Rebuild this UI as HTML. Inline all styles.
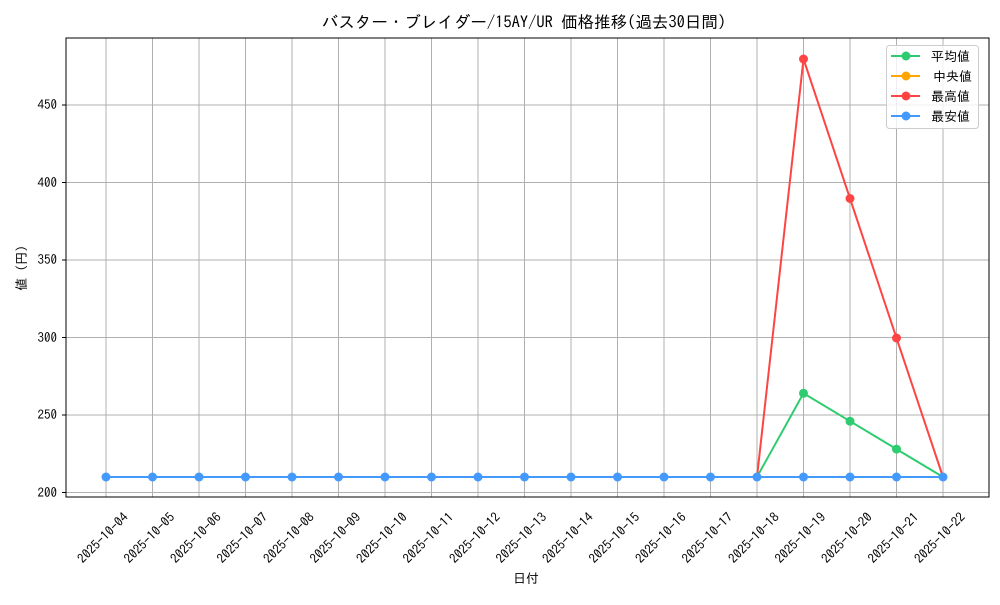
<!DOCTYPE html>
<html><head><meta charset="utf-8"><style>
body{margin:0;background:#fff;}
text{font-family:"IPAGothic","Liberation Sans","Noto Sans CJK JP",sans-serif;fill:#000;}
</style></head><body>
<svg width="1000" height="600" xmlns="http://www.w3.org/2000/svg">
<rect width="1000" height="600" fill="#fff"/>
<text x="524" y="28" font-size="16.5" text-anchor="middle">バスター・ブレイダー/15AY/UR 価格推移(過去30日間)</text>
<g stroke="#b0b0b0" stroke-width="1">
<line x1="106" y1="38" x2="106" y2="497"/><line x1="152.5" y1="38" x2="152.5" y2="497"/><line x1="199" y1="38" x2="199" y2="497"/><line x1="245.5" y1="38" x2="245.5" y2="497"/><line x1="292" y1="38" x2="292" y2="497"/><line x1="338.5" y1="38" x2="338.5" y2="497"/><line x1="385" y1="38" x2="385" y2="497"/><line x1="431.5" y1="38" x2="431.5" y2="497"/><line x1="478" y1="38" x2="478" y2="497"/><line x1="524.5" y1="38" x2="524.5" y2="497"/><line x1="571" y1="38" x2="571" y2="497"/><line x1="617.5" y1="38" x2="617.5" y2="497"/><line x1="664" y1="38" x2="664" y2="497"/><line x1="710.5" y1="38" x2="710.5" y2="497"/><line x1="757" y1="38" x2="757" y2="497"/><line x1="803.5" y1="38" x2="803.5" y2="497"/><line x1="850" y1="38" x2="850" y2="497"/><line x1="896.5" y1="38" x2="896.5" y2="497"/><line x1="943" y1="38" x2="943" y2="497"/>
<line x1="66" y1="492.5" x2="989" y2="492.5"/><line x1="66" y1="415" x2="989" y2="415"/><line x1="66" y1="337.5" x2="989" y2="337.5"/><line x1="66" y1="260" x2="989" y2="260"/><line x1="66" y1="182.5" x2="989" y2="182.5"/><line x1="66" y1="105" x2="989" y2="105"/>
</g>
<rect x="66" y="38" width="923" height="459" fill="none" stroke="#000" stroke-width="1"/>
<g font-size="13" text-anchor="end">
<text x="57" y="497">200</text><text x="57" y="419">250</text><text x="57" y="342">300</text><text x="57" y="264">350</text><text x="57" y="187">400</text><text x="57" y="109">450</text>
</g>
<g stroke="#000"><line x1="62" y1="492.5" x2="66" y2="492.5"/><line x1="62" y1="415" x2="66" y2="415"/><line x1="62" y1="337.5" x2="66" y2="337.5"/><line x1="62" y1="260" x2="66" y2="260"/><line x1="62" y1="182.5" x2="66" y2="182.5"/><line x1="62" y1="105" x2="66" y2="105"/></g>
<g font-size="13" text-anchor="middle">
<text transform="translate(106,541) rotate(-45)">2025-10-04</text>
<text transform="translate(152.5,541) rotate(-45)">2025-10-05</text>
<text transform="translate(199,541) rotate(-45)">2025-10-06</text>
<text transform="translate(245.5,541) rotate(-45)">2025-10-07</text>
<text transform="translate(292,541) rotate(-45)">2025-10-08</text>
<text transform="translate(338.5,541) rotate(-45)">2025-10-09</text>
<text transform="translate(385,541) rotate(-45)">2025-10-10</text>
<text transform="translate(431.5,541) rotate(-45)">2025-10-11</text>
<text transform="translate(478,541) rotate(-45)">2025-10-12</text>
<text transform="translate(524.5,541) rotate(-45)">2025-10-13</text>
<text transform="translate(571,541) rotate(-45)">2025-10-14</text>
<text transform="translate(617.5,541) rotate(-45)">2025-10-15</text>
<text transform="translate(664,541) rotate(-45)">2025-10-16</text>
<text transform="translate(710.5,541) rotate(-45)">2025-10-17</text>
<text transform="translate(757,541) rotate(-45)">2025-10-18</text>
<text transform="translate(803.5,541) rotate(-45)">2025-10-19</text>
<text transform="translate(850,541) rotate(-45)">2025-10-20</text>
<text transform="translate(896.5,541) rotate(-45)">2025-10-21</text>
<text transform="translate(943,541) rotate(-45)">2025-10-22</text>
</g>
<text x="526" y="583" font-size="13" text-anchor="middle">日付</text>
<text transform="translate(26,268) rotate(-90)" font-size="13" text-anchor="middle">値 (円)</text>
<polyline fill="none" stroke="#2ecc71" stroke-width="2" points="106,477 757,477 803.5,393.3 850,421.2 896.5,449.1 943,477"/>
<g fill="#2ecc71"><circle cx="803.5" cy="393.3" r="4.5"/><circle cx="850" cy="421.2" r="4.5"/><circle cx="896.5" cy="449.1" r="4.5"/></g>
<polyline fill="none" stroke="#ff4444" stroke-width="2" points="757,477 803.5,59 850,198.5 896.5,338 943,477"/>
<g fill="#ff4444"><circle cx="803.5" cy="59" r="4.5"/><circle cx="850" cy="198.5" r="4.5"/><circle cx="896.5" cy="338" r="4.5"/></g>
<line x1="106" y1="477" x2="943" y2="477" stroke="#4499ff" stroke-width="2"/>
<g fill="#4499ff"><circle cx="106" cy="477" r="4.5"/><circle cx="152.5" cy="477" r="4.5"/><circle cx="199" cy="477" r="4.5"/><circle cx="245.5" cy="477" r="4.5"/><circle cx="292" cy="477" r="4.5"/><circle cx="338.5" cy="477" r="4.5"/><circle cx="385" cy="477" r="4.5"/><circle cx="431.5" cy="477" r="4.5"/><circle cx="478" cy="477" r="4.5"/><circle cx="524.5" cy="477" r="4.5"/><circle cx="571" cy="477" r="4.5"/><circle cx="617.5" cy="477" r="4.5"/><circle cx="664" cy="477" r="4.5"/><circle cx="710.5" cy="477" r="4.5"/><circle cx="757" cy="477" r="4.5"/><circle cx="803.5" cy="477" r="4.5"/><circle cx="850" cy="477" r="4.5"/><circle cx="896.5" cy="477" r="4.5"/><circle cx="943" cy="477" r="4.5"/></g>
<rect x="886.5" y="45.5" width="92" height="83" rx="3" fill="#fff" fill-opacity="0.8" stroke="#ccc"/>
<g stroke-width="2">
<line x1="891" y1="56" x2="920" y2="56" stroke="#2ecc71"/><circle cx="906" cy="56" r="4.5" fill="#2ecc71"/>
<line x1="891" y1="76" x2="920" y2="76" stroke="#ffa500"/><circle cx="906" cy="76" r="4.5" fill="#ffa500"/>
<line x1="891" y1="96" x2="920" y2="96" stroke="#ff4444"/><circle cx="906" cy="96" r="4.5" fill="#ff4444"/>
<line x1="891" y1="116" x2="920" y2="116" stroke="#4499ff"/><circle cx="906" cy="116" r="4.5" fill="#4499ff"/>
</g>
<g font-size="13">
<text x="931" y="61">平均値</text><text x="933" y="81">中央値</text><text x="931" y="101">最高値</text><text x="931" y="121">最安値</text>
</g>
</svg>
</body></html>
